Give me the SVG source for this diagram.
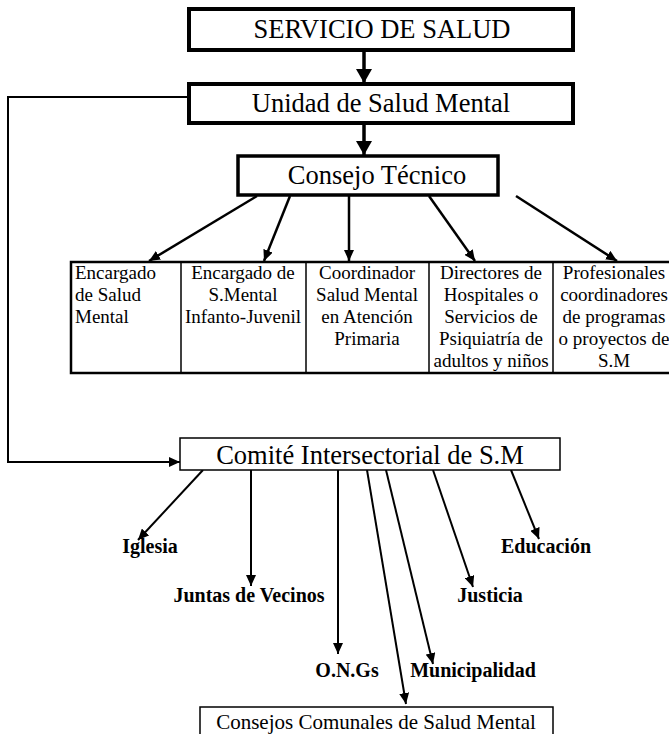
<svg xmlns="http://www.w3.org/2000/svg" width="669" height="734" viewBox="0 0 669 734">
<style>
  .t { font-family: "Liberation Serif", "Times New Roman", serif; fill: #000; }
  .big { font-size: 26.5px; text-anchor: middle; }
  .cell { font-size: 19px; }
  .mid { text-anchor: middle; }
  .lbl { font-size: 20px; font-weight: bold; }
  .box { fill: #fff; stroke: #000; }
  .conn { fill: none; stroke: #000; }
</style>
<defs>
  <marker id="bigArrow" markerUnits="userSpaceOnUse" markerWidth="16" markerHeight="16" refX="14" refY="8" orient="auto">
    <path d="M0,0 L14,8 L0,16 z" fill="#000"/>
  </marker>
  <marker id="smallArrow" markerUnits="userSpaceOnUse" markerWidth="12" markerHeight="10" refX="11" refY="5" orient="auto">
    <path d="M0,0 L11,5 L0,10 z" fill="#000"/>
  </marker>
</defs>
<rect width="669" height="734" fill="#fff"/>

<g id="connectors">
  <line class="conn" x1="364" y1="52" x2="364" y2="83" stroke-width="3.5" marker-end="url(#bigArrow)"/>
  <line class="conn" x1="364" y1="125" x2="364" y2="155" stroke-width="3.5" marker-end="url(#bigArrow)"/>
  <polyline class="conn" points="187,97 8,97 8,462 180,462" stroke-width="2" marker-end="url(#smallArrow)"/>
  <g stroke-width="2.5">
    <line class="conn" x1="257" y1="196" x2="149" y2="261" marker-end="url(#smallArrow)"/>
    <line class="conn" x1="290" y1="196" x2="264" y2="261" marker-end="url(#smallArrow)"/>
    <line class="conn" x1="349" y1="196" x2="349" y2="261" marker-end="url(#smallArrow)"/>
    <line class="conn" x1="429" y1="196" x2="475" y2="261" marker-end="url(#smallArrow)"/>
    <line class="conn" x1="516" y1="196" x2="617" y2="261" marker-end="url(#smallArrow)"/>
  </g>
  <g stroke-width="2">
    <line class="conn" x1="203" y1="470" x2="138" y2="540" marker-end="url(#smallArrow)"/>
    <line class="conn" x1="251" y1="470" x2="251" y2="586" marker-end="url(#smallArrow)"/>
    <line class="conn" x1="338" y1="470" x2="338" y2="654" marker-end="url(#smallArrow)"/>
    <line class="conn" x1="367" y1="470" x2="406" y2="704" marker-end="url(#smallArrow)"/>
    <line class="conn" x1="386" y1="470" x2="433" y2="664" marker-end="url(#smallArrow)"/>
    <line class="conn" x1="433" y1="470" x2="473" y2="587" marker-end="url(#smallArrow)"/>
    <line class="conn" x1="511" y1="470" x2="539" y2="539" marker-end="url(#smallArrow)"/>
  </g>
</g>

<g id="servicio">
  <rect class="box" x="189" y="9" width="384" height="41" stroke-width="4"/>
  <text class="t big" x="382" y="38">SERVICIO DE SALUD</text>
</g>
<g id="unidad">
  <rect class="box" x="189" y="84" width="384" height="39" stroke-width="4"/>
  <text class="t big" x="381" y="112">Unidad de Salud Mental</text>
</g>
<g id="consejo">
  <rect class="box" x="238" y="156" width="260" height="39" stroke-width="3.5"/>
  <text class="t big" x="377" y="184">Consejo Técnico</text>
</g>

<g id="filas">
  <rect class="box" x="71" y="262" width="604" height="111" stroke-width="2.5"/>
  <g stroke="#000" stroke-width="1.5">
    <line x1="181" y1="262" x2="181" y2="373"/>
    <line x1="306" y1="262" x2="306" y2="373"/>
    <line x1="429" y1="262" x2="429" y2="373"/>
    <line x1="553" y1="262" x2="553" y2="373"/>
  </g>
</g>
<g id="encargado-sm">
  <text class="t cell" x="75" y="279">Encargado</text>
  <text class="t cell" x="75" y="301">de Salud</text>
  <text class="t cell" x="75" y="323">Mental</text>
</g>
<g id="encargado-ij">
  <text class="t cell mid" x="243" y="279">Encargado de</text>
  <text class="t cell mid" x="243" y="301">S.Mental</text>
  <text class="t cell mid" x="243" y="323">Infanto-Juvenil</text>
</g>
<g id="coordinador">
  <text class="t cell mid" x="367" y="279">Coordinador</text>
  <text class="t cell mid" x="367" y="301">Salud Mental</text>
  <text class="t cell mid" x="367" y="323">en Atención</text>
  <text class="t cell mid" x="367" y="345">Primaria</text>
</g>
<g id="directores">
  <text class="t cell mid" x="491" y="279">Directores de</text>
  <text class="t cell mid" x="491" y="301">Hospitales o</text>
  <text class="t cell mid" x="491" y="323">Servicios de</text>
  <text class="t cell mid" x="491" y="345">Psiquiatría de</text>
  <text class="t cell mid" x="491" y="367">adultos y niños</text>
</g>
<g id="profesionales">
  <text class="t cell mid" x="614" y="279">Profesionales</text>
  <text class="t cell mid" x="614" y="301">coordinadores</text>
  <text class="t cell mid" x="614" y="323">de programas</text>
  <text class="t cell mid" x="614" y="345">o proyectos de</text>
  <text class="t cell mid" x="614" y="367">S.M</text>
</g>

<g id="comite">
  <rect class="box" x="180" y="438" width="380" height="32" stroke-width="1.5"/>
  <text class="t mid" x="370" y="464" style="font-size:26.5px">Comité Intersectorial de S.M</text>
</g>
<g id="iglesia"><text class="t lbl mid" x="150" y="553">Iglesia</text></g>
<g id="educacion"><text class="t lbl mid" x="546" y="553">Educación</text></g>
<g id="juntas"><text class="t lbl mid" x="249" y="602">Juntas de Vecinos</text></g>
<g id="justicia"><text class="t lbl mid" x="490" y="602">Justicia</text></g>
<g id="ongs"><text class="t lbl mid" x="347" y="677">O.N.Gs</text></g>
<g id="municipalidad"><text class="t lbl mid" x="473" y="677">Municipalidad</text></g>
<g id="consejos-comunales">
  <rect class="box" x="200" y="707" width="353" height="30" stroke-width="1.5"/>
  <text class="t mid" x="376" y="729" style="font-size:21px">Consejos Comunales de Salud Mental</text>
</g>
</svg>
